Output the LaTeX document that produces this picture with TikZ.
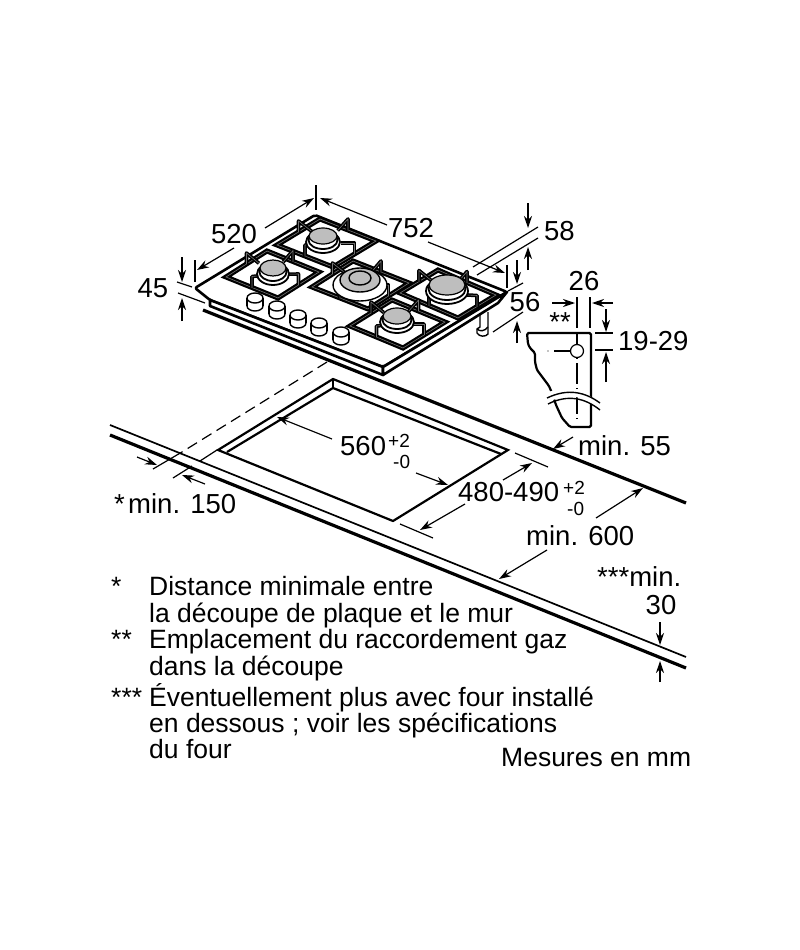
\documentclass[tikz,border=0pt]{standalone}
\usepackage{xcolor}
\usepackage{fontspec}
\setmainfont{Liberation Sans}
\usetikzlibrary{arrows.meta, calc}
\definecolor{capcolor}{RGB}{190, 190, 190}

\newcommand{\hobgrate}[3]{%
  \coordinate (gl) at (#1);
  \coordinate (gt) at (#2);
  \coordinate (gb) at (#3);
  \coordinate (gr) at ($(gt)+(gb)-(gl)$);
  \coordinate (gc) at ($(gl)!.5!(gr)$);
  \draw[gratebar] (gl) -- (gt) -- (gr) -- (gb) -- cycle;
  \draw[gratecore] (gl) -- (gt) -- (gr) -- (gb) -- cycle;
  \foreach \ga/\gb in {gl/gt, gt/gr, gr/gb, gb/gl} {
    \coordinate (gp) at ($(\ga)!.5!(\gb)+(0,-11)$);
    \draw[fingerbar] ($(\ga)!.5!(\gb)$) -- (gp) -- ($(gp)!.48!(gc)$);
    \draw[fingercore] ($(\ga)!.5!(\gb)$) -- (gp) -- ($(gp)!.48!(gc)$);
  }
}
\newcommand{\hobcap}[3]{%
  \draw[line width=1.8pt, fill=white] ($(#1)+(0,6)$) ellipse ({#2+3pt} and {#3+3pt});
  \draw[line width=1.8pt, fill=white] ($(#1)+(0,4)$) ellipse ({#2+.5pt} and {#3+1pt});
  \draw[line width=1.2pt, fill=capcolor] (#1) ellipse (#2 and #3);
}
\newcommand{\hobknob}[1]{%
  \draw[partline, fill=white] ($(#1)+(0,8)$) ellipse (8pt and 5pt);
  \fill[white] ($(#1)+(-8,0)$) rectangle ($(#1)+(8,8)$);
  \draw[partline] ($(#1)+(-8,0)$) -- ($(#1)+(-8,8)$);
  \draw[partline] ($(#1)+(8,0)$) -- ($(#1)+(8,8)$);
  \draw[partline, fill=white] (#1) ellipse (8pt and 5pt);
}

\begin{document}
\begin{tikzpicture}[
    x=1pt, y=-1pt,
    partline/.style={line width=1.4pt},
    hobline/.style={line width=2.6pt, line join=round},
    boldline/.style={line width=3.2pt},
    thinline/.style={line width=1.7pt},
    cutline/.style={line width=2.2pt},
    extline/.style={line width=1.2pt},
    dimarrow/.style={line width=1.2pt, -{Stealth[length=12pt, width=8pt]}},
    gratebar/.style={line width=5pt, line join=miter, fill=white},
    gratecore/.style={line width=.6pt, draw=white!45!black},
    fingerbar/.style={line width=3.6pt, line join=round},
    fingercore/.style={line width=.6pt, draw=white!45!black, line join=round},
    dimtext/.style={font=\fontsize{27.5}{30}\selectfont, inner sep=0pt, anchor=base},
    dimleft/.style={dimtext, anchor=base west},
    smalltext/.style={font=\fontsize{19}{21}\selectfont, inner sep=0pt, anchor=base west},
    notetext/.style={font=\fontsize{26.5}{28}\selectfont, inner sep=0pt, anchor=base west}
]
\useasboundingbox (0,0) rectangle (800,950);

% Worktop
\draw[boldline] (203,310) -- (686,503);
\draw[thinline] (110,425) -- (686,657);
\draw[boldline] (110,435) -- (686,668);

% Cut-out
\draw[cutline, line join=miter] (333,379) -- (218,450) -- (393,521) -- (508,450) -- cycle;
\draw[cutline] (227,452) -- (333,388) -- (501,454);
\draw[partline] (333,379) -- (333,388);
\draw[extline, dash pattern=on 11pt off 6pt] (327,362) -- (182,452);
\draw[extline] (182,452) -- (153,469);
\draw[extline] (217,450) -- (200,461);
\draw[extline] (192,466) -- (173,478);
\draw[extline] (515,453) -- (548,467);
\draw[extline] (400,524) -- (433,538);

% Foot
\draw[partline, fill=white] (480,312) -- (480,327) -- (477,329) -- (477,333) .. controls (479,337) and (486,337) .. (488,334) -- (488,312);
\draw[partline] (477,329) .. controls (480,332) and (485,331) .. (488,327);

% Hob
\draw[hobline, fill=white, rounded corners=2pt] (195,288) -- (315,215) -- (507,292) -- (383,367) -- (210,300) -- cycle;
\draw[hobline, fill=white] (210,300) -- (210,306) -- (383,375) -- (383,367) -- cycle;
\draw[hobline, fill=white] (383,367) -- (383,375) -- (498,303) -- (507,292) -- cycle;

% Knobs
\foreach \kx/\ky in {255/298, 277/306, 298/315, 319/323, 341/332} {
  \hobknob{\kx,\ky}
}

% Grates and burners
\hobgrate{277,245}{320,219}{333,267}
\hobcap{323,236}{14pt}{8pt}
\hobgrate{226,277}{267,251}{278,298}
\hobcap{273,268}{13pt}{8pt}
\hobgrate{312,287}{353,261}{368,309}
\draw[partline, fill=white] (360,285) ellipse (27pt and 16pt);
\draw[partline, fill=capcolor] (360,280) ellipse (20pt and 12pt);
\draw[partline, fill=capcolor] (360,278) ellipse (11pt and 7pt);
\hobgrate{400,293}{438,270}{458,318}
\hobcap{447,285}{18pt}{10pt}
\hobgrate{350,326}{392,300}{403,348}
\hobcap{397,316}{14pt}{8pt}

% Hob dimensions
\draw[extline] (316,185) -- (316,210);
\draw[dimarrow] (265,228) -- (314,198);
\draw[dimarrow] (234,248) -- (197,270);
\draw[extline] (195,260) -- (195,282);
\draw[dimarrow] (387,225) -- (320,198);
\draw[dimarrow] (428,242) -- (505,273);
\draw[extline] (507,265) -- (507,288);
\draw[dimarrow] (182,257) -- (182,282);
\draw[dimarrow] (182,321) -- (182,298);
\draw[extline] (177,282) -- (192,287);
\draw[extline] (178,293) -- (205,303);
\draw[dimarrow] (528,203) -- (528,228);
\draw[dimarrow] (528,270) -- (528,247);
\draw[extline] (538,227) -- (473,267);
\draw[extline] (538,238) -- (477,275);
\draw[dimarrow] (517,260) -- (517,284);
\draw[dimarrow] (517,343) -- (517,321);
\draw[extline] (523,283) -- (508,291);
\draw[extline] (523,312) -- (493,332);

% Gas connection detail
\draw[cutline, fill=white, line join=miter, rounded corners=1.5pt] (591,427) -- (570,427) -- (562,418) -- (556,405) -- (552,393) -- (549,386) -- (543,378) -- (537,370) -- (535,362) -- (535,353) -- (530,348) -- (528,344) -- (527,333) -- (591,333) -- cycle;
\draw[extline, dash pattern=on 21pt off 4pt on 1pt off 4pt] (577,333) -- (577,421);
\draw[extline, fill=white] (577,351) circle (6.5pt);
\draw[extline] (554,351) -- (571,351);
\fill (548,351) circle (.7pt);
\fill[white] (545,393) .. controls (570,384) and (585,392) .. (600,403) -- (600,410) .. controls (585,398) and (570,390) .. (547,403) -- cycle;
\draw[partline] (547,398) .. controls (568,388) and (585,392) .. (600,403);
\draw[partline] (548,404) .. controls (568,394) and (585,398) .. (600,410);
\draw[extline] (577,297) -- (577,328);
\draw[extline] (590,297) -- (590,328);
\draw[dimarrow] (552,303) -- (575,303);
\draw[dimarrow] (613,303) -- (592,303);
\draw[extline] (595,333) -- (613,333);
\draw[extline] (595,350) -- (613,350);
\draw[dimarrow] (606,309) -- (606,332);
\draw[dimarrow] (606,382) -- (606,352);

% Worktop dimensions
\draw[dimarrow] (137,457) -- (157,465);
\draw[dimarrow] (205,484) -- (182,475);
\draw[dimarrow] (332,439) -- (277,417);
\draw[dimarrow] (416,473) -- (448,485);
\draw[dimarrow] (503,480) -- (532,463);
\draw[dimarrow] (465,504) -- (420,530);
\draw[dimarrow] (573,437) -- (553,449);
\draw[dimarrow] (596,518) -- (643,488);
\draw[dimarrow] (547,550) -- (499,579);
\draw[dimarrow] (660,622) -- (660,645);
\draw[dimarrow] (660,682) -- (660,661);

% Dimension labels
\node[dimtext] (width) at (234,243) {520};
\node[dimtext] (depth) at (411,237) {752};
\node[dimtext] (edge) at (153,297) {45};
\node[dimleft] (height) at (544,240) {58};
\node[dimtext] (foot) at (525,311) {56};
\node[dimtext] (pipe) at (584,290) {26};
\node[dimtext] (gasmark) at (560,331) {**};
\node[dimleft] (pipeheight) at (618,350) {19-29};
\node[dimleft] (cutwidth) at (340,455) {560};
\node[smalltext] (cutwidthup) at (388,447) {+2};
\node[smalltext] (cutwidthdown) at (393,468) {-0};
\node[dimleft] (cutdepth) at (458,501) {480-490};
\node[smalltext] (cutdepthup) at (563,494) {+2};
\node[smalltext] (cutdepthdown) at (567,515) {-0};
\node[dimleft] (backgap) at (578,455) {min. 55};
\node[dimleft] (worktop) at (526,545) {min. 600};
\node[dimleft] (ovenmark) at (597,586) {***min.};
\node[dimtext] (oven) at (661,614) {30};
\node[dimleft] (wallmark) at (114,513) {*};
\node[dimleft] (wall) at (128,513) {min. 150};

% Notes
\node[notetext] (staronea) at (111,595) {*};
\node[notetext] (noteonea) at (149,595) {Distance minimale entre};
\node[notetext] (noteoneb) at (149,622) {la découpe de plaque et le mur};
\node[notetext] (startwo) at (111,648) {**};
\node[notetext] (notetwoa) at (149,648) {Emplacement du raccordement gaz};
\node[notetext] (notetwob) at (149,675) {dans la découpe};
\node[notetext] (starthree) at (111,706) {***};
\node[notetext] (notethreea) at (149,706) {Éventuellement plus avec four installé};
\node[notetext] (notethreeb) at (149,732) {en dessous ; voir les spécifications};
\node[notetext] (notethreec) at (149,758) {du four};
\node[notetext] (units) at (501,766) {Mesures en mm};

\end{tikzpicture}
\end{document}
